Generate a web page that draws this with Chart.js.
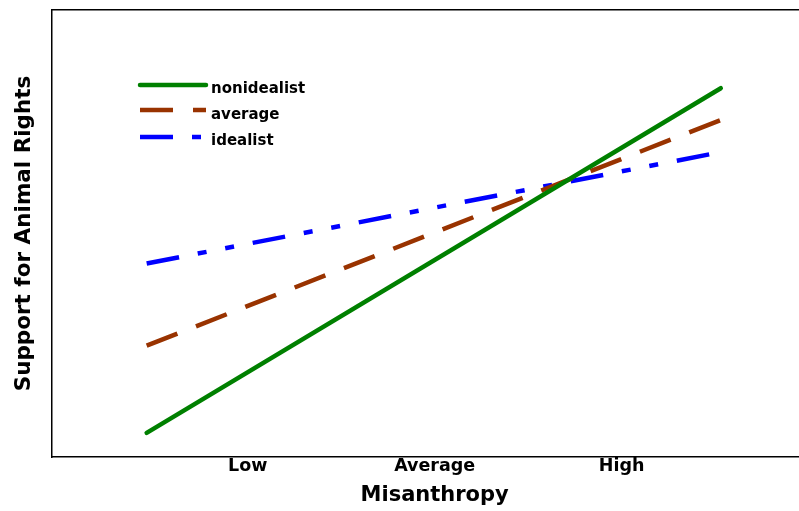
<!DOCTYPE html>
<html>
<head>
<meta charset="utf-8">
<script src="https://cdn.jsdelivr.net/npm/chart.js@4.4.1/dist/chart.umd.min.js"></script>
<style>
  html, body { margin: 0; padding: 0; background: #fff; overflow: hidden; }
  #wrap { width: 830px; height: 511px; }
</style>
</head>
<body>
<div id="wrap"><canvas id="misanthropyChart" width="830" height="511"></canvas></div>
<script>
// x positions (standardised misanthropy) and tick labels
const levelLabels = ['Low', 'Average', 'High'];
const levelValues = [-1, 0, 1];
const lineX = [-1.54, 1.53];

// predicted support for animal rights (arbitrary 0-100 scale)
const nonidealist = [5.4, 82.5];
const average = [24.9, 75.4];
const idealist = [43.3, 68.2];

const seriesNames = ['nonidealist', 'average', 'idealist'];

const FONT = "'DejaVu Sans', 'Liberation Sans', Arial, sans-serif";

function points(ys) {
    return ys.map((y, i) => ({ x: lineX[i], y: y }));
}

// legend drawn inside the plot, top left, like the original
const insideLegend = {
    id: 'insideLegend',
    afterDatasetsDraw(chart) {
        const ctx = chart.ctx;
        const x0 = 140, x1 = 206, textX = 211;
        const lineY = [85, 110, 137];
        const baseY = [93, 119, 145];
        chart.data.datasets.forEach((ds, i) => {
            ctx.save();
            ctx.strokeStyle = ds.borderColor;
            ctx.lineWidth = ds.borderWidth;
            ctx.lineCap = ds.borderCapStyle || 'butt';
            ctx.setLineDash(ds.borderDash || []);
            ctx.beginPath();
            ctx.moveTo(x0, lineY[i]);
            ctx.lineTo(x1, lineY[i]);
            ctx.stroke();
            ctx.setLineDash([]);
            ctx.fillStyle = '#000';
            ctx.font = 'bold 15px ' + FONT;
            ctx.textBaseline = 'alphabetic';
            ctx.fillText(ds.label, textX, baseY[i]);
            ctx.restore();
        });
    }
};

const data = {
    datasets: [
        {
            label: seriesNames[0],
            data: points(nonidealist),
            borderColor: '#008000',
            borderWidth: 4.5,
            borderCapStyle: 'round',
        },
        {
            label: seriesNames[1],
            data: points(average),
            borderColor: '#993300',
            borderWidth: 4.5,
            borderDash: [33, 20],
        },
        {
            label: seriesNames[2],
            data: points(idealist),
            borderColor: '#0000ff',
            borderWidth: 4.5,
            borderDash: [33, 19, 9, 19, 9, 19],
        }
    ]
};

const ctx = document.getElementById('misanthropyChart').getContext('2d');

// plot area runs past the right edge of the window, like the original
new Chart(ctx, {
    type: 'line',
    data: data,
    plugins: [insideLegend],
    options: {
        responsive: false,
        animation: false,
        devicePixelRatio: 1,
        layout: { padding: { left: 7.5, right: 12, top: 10, bottom: 2.8 } },
        elements: { point: { radius: 0 }, line: { tension: 0 } },
        plugins: {
            legend: { display: false },
            tooltip: { enabled: false }
        },
        scales: {
            x: {
                type: 'linear',
                min: -2.05,
                max: 2.05,
                afterBuildTicks: (scale) => {
                    scale.ticks = levelValues.map(v => ({ value: v }));
                },
                ticks: {
                    padding: -1,
                    color: '#000',
                    maxRotation: 0,
                    autoSkip: false,
                    font: { family: FONT, size: 17.5, weight: 'bold' },
                    callback: (value) => levelLabels[levelValues.indexOf(value)]
                },
                grid: { display: false, drawTicks: false },
                border: { display: true, color: '#000', width: 1.5 },
                title: {
                    display: true,
                    text: 'Misanthropy',
                    color: '#000',
                    font: { family: FONT, size: 21, weight: 'bold' },
                    padding: { top: 7, bottom: 0 }
                }
            },
            x2: {
                type: 'linear',
                position: 'top',
                min: -2.05,
                max: 2.05,
                ticks: { display: false },
                grid: { display: false, drawTicks: false },
                border: { display: true, color: '#000', width: 1.5 }
            },
            y: {
                min: 0,
                max: 100,
                ticks: { display: false },
                grid: { display: false, drawTicks: false },
                border: { display: true, color: '#000', width: 1.5 },
                title: {
                    display: true,
                    text: 'Support for Animal Rights',
                    color: '#000',
                    font: { family: FONT, size: 21.5, weight: 'bold' },
                    padding: { top: 4, bottom: 14 }
                }
            }
        }
    }
});
</script>
</body>
</html>
